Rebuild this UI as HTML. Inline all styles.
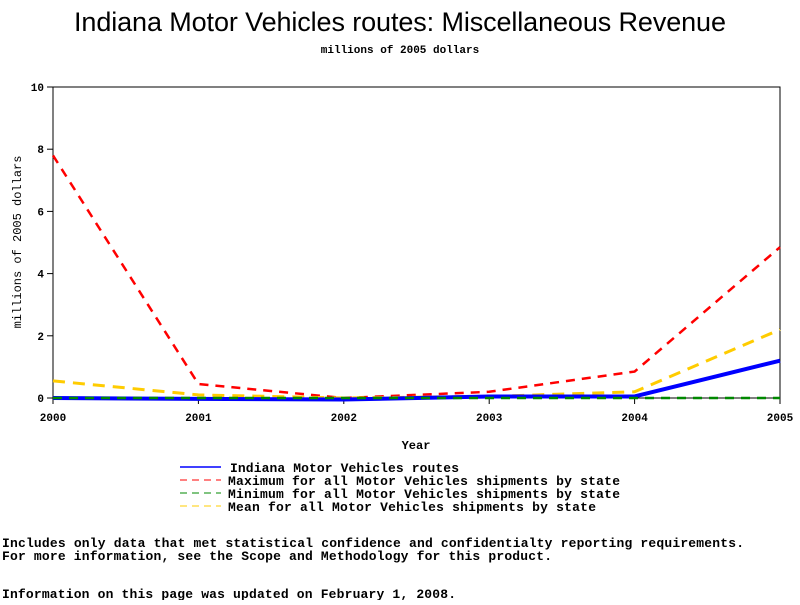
<!DOCTYPE html>
<html><head><meta charset="utf-8"><style>
body{margin:0;width:800px;height:600px;background:#fff;overflow:hidden;font-family:"Liberation Mono",monospace}
svg text{font-family:"Liberation Mono",monospace}
</style></head><body>
<svg width="800" height="600" id="c">
<text x="400" y="31" text-anchor="middle" font-size="27" style="font-family:'Liberation Sans'" textLength="652">Indiana Motor Vehicles routes: Miscellaneous Revenue</text>
<text x="400" y="53" text-anchor="middle" font-size="11" font-weight="bold">millions of 2005 dollars</text>
<rect x="53" y="87" width="727" height="311" fill="none" stroke="#000"/>
<g id="axes"></g><g id="series"></g>
<text x="416" y="449" text-anchor="middle" font-size="12" font-weight="bold">Year</text>
<text transform="translate(21,242) rotate(-90)" text-anchor="middle" font-size="12">millions of 2005 dollars</text>
<g font-size="13" font-weight="bold">
<line x1="180" y1="467" x2="221" y2="467" stroke="#00f" stroke-width="1.5"/><text x="230" y="472" textLength="229">Indiana Motor Vehicles routes</text>
<line x1="180" y1="480" x2="221" y2="480" stroke="#f00" stroke-dasharray="7,5"/><text x="228" y="485" textLength="392">Maximum for all Motor Vehicles shipments by state</text>
<line x1="180" y1="493" x2="221" y2="493" stroke="#080" stroke-dasharray="7,5"/><text x="228" y="498" textLength="392">Minimum for all Motor Vehicles shipments by state</text>
<line x1="180" y1="506" x2="221" y2="506" stroke="#fc0" stroke-dasharray="7,5"/><text x="228" y="511" textLength="368">Mean for all Motor Vehicles shipments by state</text>
</g>
<g font-size="13" font-weight="bold">
<text x="2" y="547" textLength="742">Includes only data that met statistical confidence and confidentialty reporting requirements.</text>
<text x="2" y="560" textLength="550">For more information, see the Scope and Methodology for this product.</text>
<text x="2" y="598" textLength="454">Information on this page was updated on February 1, 2008.</text>
</g>
</svg>
<script>
const years=[2000,2001,2002,2003,2004,2005];
const yTicks=[0,2,4,6,8,10];
const maxVals=[7.8,0.45,0.0,0.2,0.85,4.85];
const meanVals=[0.55,0.1,0.0,0.05,0.2,2.2];
const minVals=[0,0,0,0,0,0];
const indVals=[0,-0.03,-0.05,0.05,0.05,1.2];
const NS="http://www.w3.org/2000/svg";
const x=v=>53+(v-2000)*727/5, y=v=>398-v*31.1;
const ax=document.getElementById('axes'),se=document.getElementById('series');
function mk(t,a,p){const e=document.createElementNS(NS,t);for(const k in a)e.setAttribute(k,a[k]);p.appendChild(e);return e;}
yTicks.forEach(t=>{mk('line',{x1:47,x2:53,y1:y(t),y2:y(t),stroke:'#000'},ax);
const l=mk('text',{x:44,y:y(t)+4,'text-anchor':'end','font-size':11,'font-weight':'bold'},ax);l.textContent=t;

});
years.forEach(t=>{mk('line',{x1:x(t),x2:x(t),y1:398,y2:404,stroke:'#000'},ax);
const l=mk('text',{x:x(t),y:421,'text-anchor':'middle','font-size':11,'font-weight':'bold'},ax);l.textContent=t;

});
function line(v,c,w,d,n){const p=mk('polyline',{points:v.map((d,i)=>x(years[i])+','+y(d)).join(' '),fill:'none',stroke:c,'stroke-width':w},se);
if(d)p.setAttribute('stroke-dasharray',d);

}
line(maxVals,'#f00',2.5,'9,7','series-maximum');
line(meanVals,'#fc0',3,'12,8','series-mean');
line(indVals,'#00f',4,null,'series-indiana');
line(minVals,'#080',2.5,'9,7','series-minimum');
</script>
</body></html>
